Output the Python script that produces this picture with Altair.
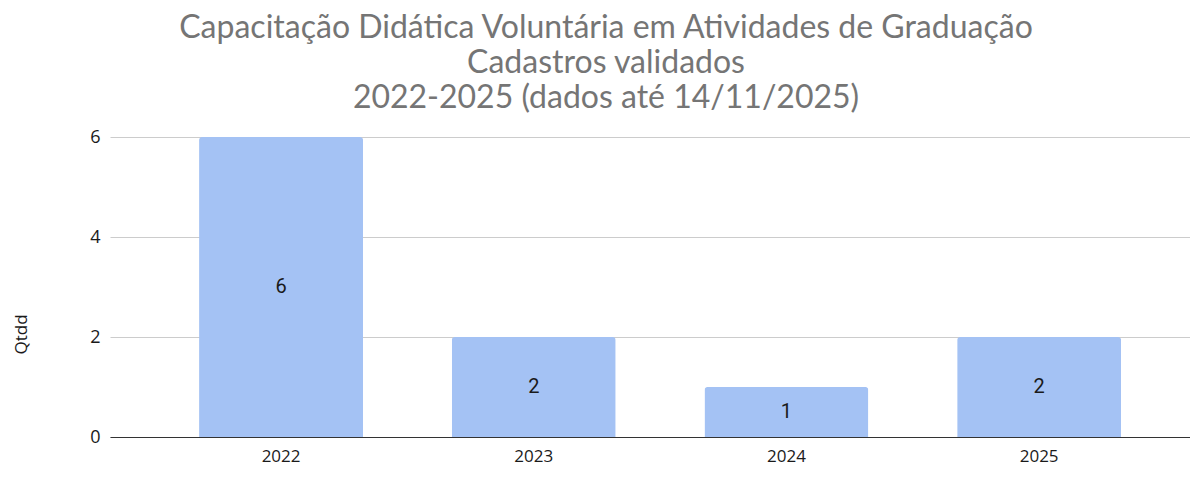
import altair as alt
import pandas as pd

years = ["2022", "2023", "2024", "2025"]
values = [6, 2, 1, 2]
title_lines = [
    "Capacitação Didática Voluntária em Atividades de Graduação",
    "Cadastros validados",
    "2022-2025 (dados até 14/11/2025)",
]
y_title = "Qtdd"

df = pd.DataFrame({"ano": years, "qtdd": values})
df["mid"] = df["qtdd"] / 2

x_enc = alt.X(
    "ano:N",
    sort=years,
    scale=alt.Scale(paddingInner=0.351, paddingOuter=0.3125, align=0.564),
    axis=alt.Axis(
        title=None, labelAngle=0, ticks=False, tickSize=0, labelPadding=11,
        labelFont="Open Sans", labelFontSize=17, labelColor="#1a1a1a",
        domainColor="#333333", domainWidth=1.2, grid=False,
    ),
)

bars = alt.Chart(df).mark_bar(
    color="#a4c2f4", cornerRadiusTopLeft=3, cornerRadiusTopRight=3
).encode(
    x=x_enc,
    y=alt.Y(
        "qtdd:Q",
        scale=alt.Scale(domain=[0, 6], nice=False),
        axis=alt.Axis(
            title=y_title, values=[0, 2, 4, 6], ticks=False, tickSize=0,
            labelPadding=10, labelFont="Open Sans", labelFontSize=18,
            labelColor="#1a1a1a", domain=False, gridColor="#cccccc",
            gridWidth=1, titleFont="Open Sans", titleFontSize=17,
            titleFontWeight="normal", titleColor="#1a1a1a",
            titleX=-89, titleY=197, titleBaseline="middle", titleAngle=270,
        ),
    ),
)

labels = alt.Chart(df).mark_text(
    font="Roboto", fontSize=20, color="#1a1a1a", baseline="middle", align="center"
).encode(
    x=alt.X("ano:N", sort=years),
    y=alt.Y("mid:Q"),
    text=alt.Text("qtdd:Q"),
)

chart = (
    (bars + labels)
    .properties(
        width=1080,
        height=300,
        title=alt.Title(
            title_lines,
            font="Lato",
            fontSize=32,
            fontWeight="normal",
            color="#757575",
            lineHeight=35,
            anchor="middle",
            offset=13,
            dx=-44,
        ),
        autosize=alt.AutoSizeParams(type="none"),
        padding={"left": 102, "top": 129, "right": 0, "bottom": 33},
    )
    .configure_view(stroke=None)
)

chart.save("out.html", embed_options={"renderer": "svg", "actions": False})
